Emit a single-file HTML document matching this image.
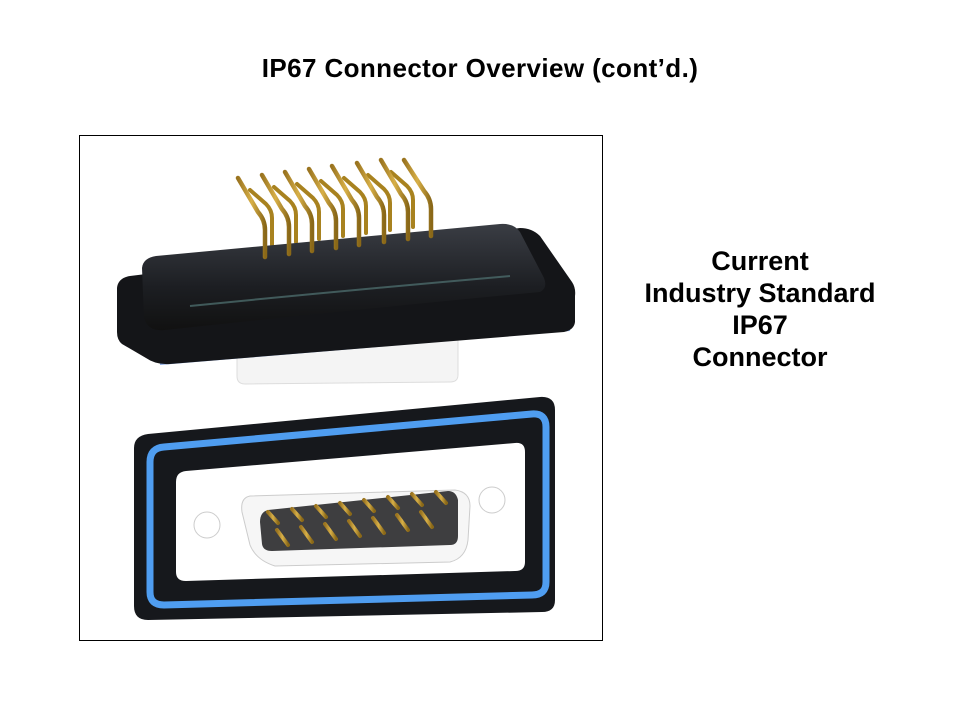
<!DOCTYPE html>
<html><head><meta charset="utf-8"><style>
body{margin:0;width:960px;height:720px;background:#fff;overflow:hidden;font-family:"Liberation Sans",Arial,sans-serif}
.t{position:absolute;left:0;width:960px;top:53px;text-align:center;font-weight:bold;font-size:26px;line-height:30px;letter-spacing:0.4px}
.r{position:absolute;left:600px;width:320px;top:245px;text-align:center;font-weight:bold;font-size:27px;line-height:32px}
svg{position:absolute;left:0;top:0}
</style></head><body>
<div class="t">IP67 Connector Overview (cont’d.)</div>
<div class="r">Current<br>Industry Standard<br>IP67<br>Connector</div>
<svg width="960" height="720">
<defs>
<linearGradient id="g" x1="0" x2="1"><stop offset="0" stop-color="#9a7420"/><stop offset=".5" stop-color="#d8b048"/><stop offset="1" stop-color="#8a6818"/></linearGradient>
<linearGradient id="bl" x1="0" x2="0" y1="0" y2="1"><stop offset="0" stop-color="#3a3d44"/><stop offset=".6" stop-color="#1c1e22"/><stop offset="1" stop-color="#111"/></linearGradient>
</defs>
<rect x="79.5" y="135.5" width="523" height="505" fill="#fff" stroke="#000"/>
<path d="M237,350 L458,340 L458,375 Q458,382 450,382 L245,384 Q237,384 237,376 Z" fill="#f4f4f4" stroke="#ddd"/>
<g stroke="#a8821f" stroke-width="4" fill="none" stroke-linecap="round">
<path d="M272,245 L272,218 Q272,210 266,204 L250,190"/>
<path d="M296,242 L296,215 Q296,207 290,201 L274,187"/>
<path d="M319,239 L319,212 Q319,204 313,198 L297,184"/>
<path d="M343,236 L343,209 Q343,201 337,195 L321,181"/>
<path d="M366,233 L366,206 Q366,198 360,192 L344,178"/>
<path d="M390,230 L390,203 Q390,195 384,189 L368,175"/>
<path d="M413,227 L413,200 Q413,192 407,186 L391,172"/>
</g>
<path d="M160,364 L570,330" stroke="#3a6fd0" stroke-width="2" opacity=".6"/>
<path d="M117,288 Q118,278 130,276 L520,228 Q532,228 540,236 L572,282 Q576,288 575,296 L575,322 Q574,330 564,332 L170,364 Q156,365 146,358 L122,344 Q117,340 117,332 Z" fill="#141518"/>
<path d="M142,268 Q143,258 156,256 L500,224 Q514,223 520,232 L544,278 Q548,288 540,292 Q400,305 165,330 Q148,332 144,318 Z" fill="url(#bl)"/>
<path d="M190,306 Q350,290 510,276" stroke="#4b6a6a" stroke-width="2" fill="none" opacity=".8"/>
<g stroke="url(#g)" stroke-width="4.5" fill="none" stroke-linecap="round">
<path d="M265,257 L265,230 Q265,220 258,212 L238,178"/>
<path d="M289,254 L289,227 Q289,217 282,209 L262,175"/>
<path d="M312,251 L312,224 Q312,214 305,206 L285,172"/>
<path d="M336,248 L336,221 Q336,211 329,203 L309,169"/>
<path d="M359,245 L359,218 Q359,208 352,200 L332,166"/>
<path d="M384,242 L384,215 Q384,205 377,197 L357,163"/>
<path d="M408,239 L408,212 Q408,202 401,194 L381,160"/>
<path d="M431,236 L431,209 Q431,199 424,191 L404,160"/>
</g>
<path d="M134,448 Q134,436 148,434 L540,397 Q555,396 555,410 L555,600 Q555,612 542,612 L148,620 Q134,620 134,606 Z" fill="#16181c"/>
<path d="M150,462 Q150,448 164,447 L532,414 Q546,413 546,427 L546,582 Q546,595 532,595 L164,605 Q150,605 150,592 Z" fill="none" stroke="#4f9df0" stroke-width="7"/>
<path d="M176,482 Q176,472 186,471 L515,443 Q525,442 525,452 L525,562 Q525,571 515,571 L186,581 Q176,581 176,572 Z" fill="#fff"/>
<circle cx="207" cy="525" r="13" fill="#fff" stroke="#ccc"/>
<circle cx="492" cy="500" r="13" fill="#fff" stroke="#ccc"/>
<path d="M250,496 Q240,498 242,512 L250,545 Q256,560 275,566 L450,562 Q466,558 468,540 L470,506 Q470,492 455,490 Z" fill="#f6f6f6" stroke="#ccc"/>
<path d="M268,510 Q260,512 260,522 L262,544 Q263,551 272,551 L450,545 Q458,545 458,536 L458,500 Q456,491 448,491 Z" fill="#3e3e40"/>
<g stroke="url(#g)" stroke-width="4" stroke-linecap="round">
<line x1="268" y1="512" x2="278" y2="523"/><line x1="292" y1="509" x2="302" y2="520"/><line x1="316" y1="506" x2="326" y2="517"/><line x1="340" y1="503" x2="350" y2="514"/><line x1="364" y1="500" x2="374" y2="511"/><line x1="388" y1="497" x2="398" y2="508"/><line x1="412" y1="494" x2="422" y2="505"/><line x1="436" y1="492" x2="446" y2="503"/>
<line x1="277" y1="530" x2="288" y2="545"/><line x1="301" y1="527" x2="312" y2="542"/><line x1="325" y1="524" x2="336" y2="539"/><line x1="349" y1="521" x2="360" y2="536"/><line x1="373" y1="518" x2="384" y2="533"/><line x1="397" y1="515" x2="408" y2="530"/><line x1="421" y1="512" x2="432" y2="527"/>
</g>
</svg>
</body></html>
